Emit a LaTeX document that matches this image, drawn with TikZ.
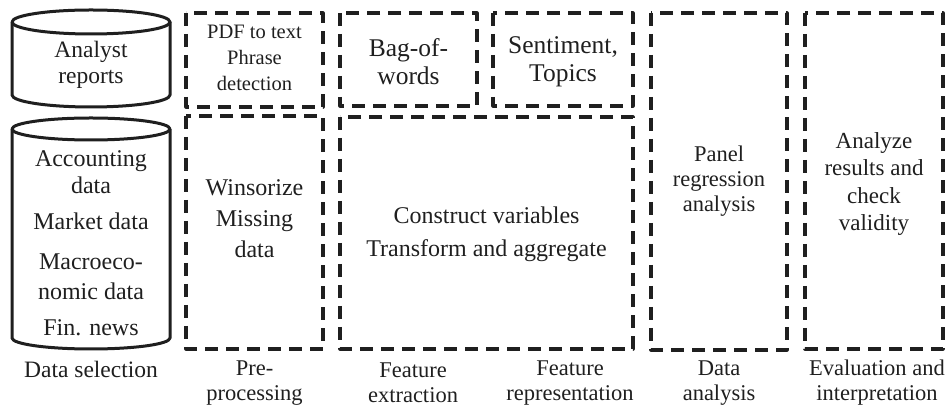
\documentclass[tikz,border=0pt]{standalone}
\usepackage{fontspec}
\setmainfont{Liberation Serif}
\begin{document}
\begin{tikzpicture}[x=1pt,y=1pt,
  stage/.style={draw=black!88, line width=3.2pt, dash pattern=on 13pt off 8pt, line join=round, line cap=butt},
  db/.style={draw=black!88, line width=3pt, line join=round},
  txt/.style={align=center, inner sep=0pt, font=\fontsize{22}{27}\selectfont, text=black!88},
  lbl/.style={align=center, inner sep=0pt, font=\fontsize{22.5}{25}\selectfont, text=black!88}]
\path[use as bounding box] (0,0) rectangle (952,406);
% cylinders
\draw[db] (12,384) -- (12,311) arc[start angle=180,end angle=360,x radius=79pt,y radius=12pt] -- (170,384);
\draw[db] (91,384) ellipse [x radius=79pt, y radius=12pt];
\draw[db] (12,277) -- (12,68) arc[start angle=180,end angle=360,x radius=79pt,y radius=11pt] -- (170,277);
\draw[db] (91,277) ellipse [x radius=79pt, y radius=11pt];
\node[txt, font=\fontsize{23.5}{26}\selectfont] (analyst) at (91,341) {Analyst\\reports};
\node[txt, font=\fontsize{24}{27}\selectfont] (acc) at (91,234) {Accounting\\data};
\node[txt, font=\fontsize{24}{27}\selectfont] (mkt) at (91,185) {Market data};
\node[txt, font=\fontsize{24}{30}\selectfont] (macro) at (91,129) {Macroeco-\\nomic data};
\node[txt, font=\fontsize{24}{27}\selectfont] (fin) at (91,78) {Fin. news};
% dashed boxes
\draw[stage] (186,393) rectangle (323,299);
\draw[stage] (186,290) rectangle (323,57);
\draw[stage] (340,393) rectangle (477,300);
\draw[stage] (493,393) rectangle (633,300);
\draw[stage] (340,289) rectangle (633,57);
\draw[stage] (651,393) rectangle (787,56);
\draw[stage] (805,393) rectangle (943,57);
\node[txt, font=\fontsize{20.5}{26}\selectfont] (pdf) at (254.5,348) {PDF to text\\Phrase\\detection};
\node[txt, font=\fontsize{24}{31}\selectfont] (wins) at (254.5,187) {Winsorize\\Missing\\data};
\node[txt, font=\fontsize{25.5}{28}\selectfont] (bag) at (408.5,344) {Bag-of-\\words};
\node[txt, font=\fontsize{25.5}{28}\selectfont] (sent) at (563,344) {Sentiment,\\Topics};
\node[txt, font=\fontsize{24}{33}\selectfont] (constr) at (486.5,172) {Construct variables\\Transform and aggregate};
\node[txt, font=\fontsize{22.5}{25}\selectfont] (panel) at (719,225) {Panel\\regression\\analysis};
\node[txt, font=\fontsize{23}{27.5}\selectfont] (analyze) at (874,222) {Analyze\\results and\\check\\validity};
% stage labels
\node[lbl, font=\fontsize{23.5}{25}\selectfont] (l1) at (91,37) {Data selection};
\node[lbl] (l2) at (254.5,23) {Pre-\\processing};
\node[lbl] (l3) at (413,23) {Feature\\extraction};
\node[lbl] (l4) at (570,23) {Feature\\representation};
\node[lbl] (l5) at (719,23) {Data\\analysis};
\node[lbl] (l6) at (877,23) {Evaluation and\\interpretation};
\end{tikzpicture}
\end{document}
